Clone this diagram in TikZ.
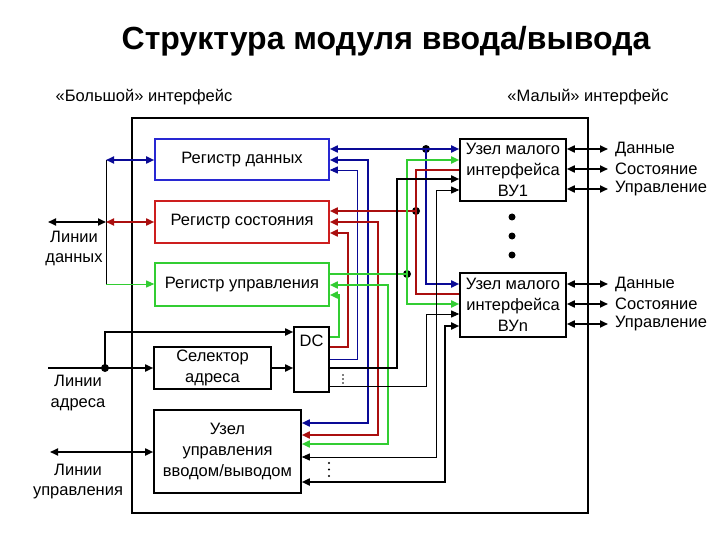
\documentclass[tikz,border=0pt]{standalone}
\usepackage{fontspec}
\setmainfont{Liberation Sans}
\usetikzlibrary{arrows.meta}
\definecolor{regblue}{RGB}{40,40,210}
\definecolor{lineblue}{RGB}{10,10,150}
\definecolor{regred}{RGB}{205,30,30}
\definecolor{linered}{RGB}{170,15,15}
\definecolor{reggreen}{RGB}{50,205,50}

\begin{document}
\begin{tikzpicture}[x=1pt, y=-1pt,
    box/.style={draw, line width=1.6pt, fill=white, inner sep=0pt, align=center,
                font=\fontsize{16.5}{20.8}\selectfont},
    txt/.style={inner sep=0pt, align=center, font=\fontsize{16.5}{20.8}\selectfont},
    rlab/.style={txt, anchor=west, inner xsep=7pt},
    ar/.style={-{Triangle[length=8pt,width=7pt]}},
    dar/.style={{Triangle[length=8pt,width=7pt]}-{Triangle[length=8pt,width=7pt]}},
    thk/.style={line width=1.7pt},
    thn/.style={line width=0.9pt},
    jdot/.style={circle, fill=black, inner sep=0pt, minimum size=8pt},
    edot/.style={circle, fill=black, inner sep=0pt, minimum size=1.8pt}]
  \useasboundingbox (0,0) rectangle (720,540);
  \node[font=\fontsize{32}{34}\selectfont\bfseries] (title) at (386,41) {Структура модуля ввода/вывода};
  \node[txt] (bigif) at (144,97) {«Большой» интерфейс};
  \node[txt] (smallif) at (588,97) {«Малый» интерфейс};
  % module frame
  \draw[line width=2pt] (132,118) rectangle (588,513);
  % blocks
  \node[box, draw=regblue, minimum width=174pt, minimum height=41pt] (rd) at (242,159.5) {Регистр данных};
  \node[box, draw=regred, minimum width=174pt, minimum height=42pt] (rs) at (242,222) {Регистр состояния};
  \node[box, draw=reggreen, minimum width=174pt, minimum height=43pt] (ru) at (242,284.5) {Регистр управления};
  \node[box, minimum width=117pt, minimum height=42pt] (sa) at (212.5,368) {Селектор\\адреса};
  \node[box, minimum width=35pt, minimum height=65pt] (dc) at (311.5,359.5) {};
  \node[txt] (dclab) at (311.5,341) {DC};
  \node[box, minimum width=147pt, minimum height=83pt] (uu) at (227.5,451.5) {Узел\\управления\\вводом/выводом};
  \node[box, minimum width=106pt, minimum height=62pt] (vu1) at (513,170) {Узел малого\\интерфейса\\ВУ1};
  \node[box, minimum width=106pt, minimum height=64pt] (vun) at (513,305) {Узел малого\\интерфейса\\ВУn};
  \node[jdot, minimum size=7pt] (vd1) at (512,217) {};
  \node[jdot, minimum size=7pt] (vd2) at (512,236) {};
  \node[jdot, minimum size=7pt] (vd3) at (512,255) {};
  % junctions
  \node[jdot] (jb) at (426,149) {};
  \node[jdot] (jr) at (416,211) {};
  \node[jdot] (jg) at (407,274) {};
  % blue lines
  \draw[thk, lineblue, dar] (rd.east |- jb) -- (vu1.west |- jb);
  \draw[thk, lineblue, ar] (jb.center) |- (vun.west |- 0,284);
  \draw[thk, lineblue, dar] (rd.east |- 0,160) -| (368,423) -- (uu.east |- 0,423);
  \draw[thn, lineblue, ar] (dc.east |- 0,359) -| (357,170) -- (rd.east |- 0,170);
  % red lines
  \draw[thk, linered, ar] (jr.center) -- (rs.east |- jr);
  \draw[thk, linered] (vu1.west |- 0,170) -| (jr.center) |- (vun.west |- 0,294);
  \draw[thk, linered, dar] (rs.east |- 0,222) -| (378,435) -- (uu.east |- 0,435);
  \draw[thk, linered, ar] (dc.east |- 0,347) -| (348,233) -- (rs.east |- 0,233);
  % green lines
  \draw[thk, reggreen] (ru.east |- jg) -- (jg.center);
  \draw[thk, reggreen, ar] (jg.center) |- (vu1.west |- 0,160);
  \draw[thk, reggreen, ar] (jg.center) |- (vun.west |- 0,304);
  \draw[thk, reggreen, dar] (ru.east |- 0,285) -| (388,444) -- (uu.east |- 0,444);
  \draw[thk, reggreen, ar] (dc.east |- 0,337) -| (339,295) -- (ru.east |- 0,295);
  % black lines
  \draw[thk, ar] (dc.east |- 0,368) -| (397,179) -- (vu1.west |- 0,179);
  \draw[thn, dar] (uu.east |- 0,457) -| (436,190) -- (vu1.west |- 0,190);
  \draw[thn, ar] (dc.east |- 0,386) -| (426,314) -- (vun.west |- 0,314);
  \draw[thk, dar] (uu.east |- 0,482) -| (445,326) -- (vun.west |- 0,326);
  % omitted lines
  \node[edot] (e11) at (343,375) {};
  \node[edot] (e12) at (343,379) {};
  \node[edot] (e13) at (343,383) {};
  \node[edot, minimum size=2.4pt] (e21) at (329,463) {};
  \node[edot, minimum size=2.4pt] (e22) at (329,469.5) {};
  \node[edot, minimum size=2.4pt] (e23) at (329,476) {};
  % data lines
  \coordinate (dl) at (48,222);
  \coordinate (dtop) at (106,160);
  \coordinate (dmid) at (106,222);
  \coordinate (dbot) at (106,284);
  \draw[thn] (dtop) -- (dbot);
  \draw[thk, dar] (dl) -- (dmid);
  \draw[thk, lineblue, dar] (dtop) -- (rd.west |- dtop);
  \draw[thk, linered, dar] (dmid) -- (rs.west);
  \draw[thn, reggreen, ar] (dbot) -- (ru.west |- dbot);
  \node[txt] (ldata) at (74,248.5) {Линии\\данных};
  % address lines
  \coordinate (al) at (48,368);
  \node[jdot] (ja) at (105,368) {};
  \draw[thk, ar] (al) -- (sa.west);
  \draw[thk, ar] (ja.center) |- (dc.west |- 0,332);
  \draw[thk, ar] (sa.east) -- (dc.west |- sa.east);
  \node[txt] (laddr) at (78,393) {Линии\\адреса};
  % control lines
  \coordinate (cl) at (50,452);
  \draw[thk, dar] (cl) -- (uu.west |- cl);
  \node[txt] (lctrl) at (78,481.5) {Линии\\управления};
  % small interface lines
  \node[rlab] (d1) at (608,149) {Данные};
  \node[rlab] (s1) at (608,169) {Состояние};
  \node[rlab] (u1) at (608,189) {Управление};
  \node[rlab] (dn) at (608,284) {Данные};
  \node[rlab] (sn) at (608,304) {Состояние};
  \node[rlab] (un) at (608,324) {Управление};
  \draw[thk, dar] (vu1.east |- d1) -- (d1.west);
  \draw[thk, dar] (vu1.east |- s1) -- (s1.west);
  \draw[thk, dar] (vu1.east |- u1) -- (u1.west);
  \draw[thk, dar] (vun.east |- dn) -- (dn.west);
  \draw[thk, dar] (vun.east |- sn) -- (sn.west);
  \draw[thk, dar] (vun.east |- un) -- (un.west);
\end{tikzpicture}
\end{document}
